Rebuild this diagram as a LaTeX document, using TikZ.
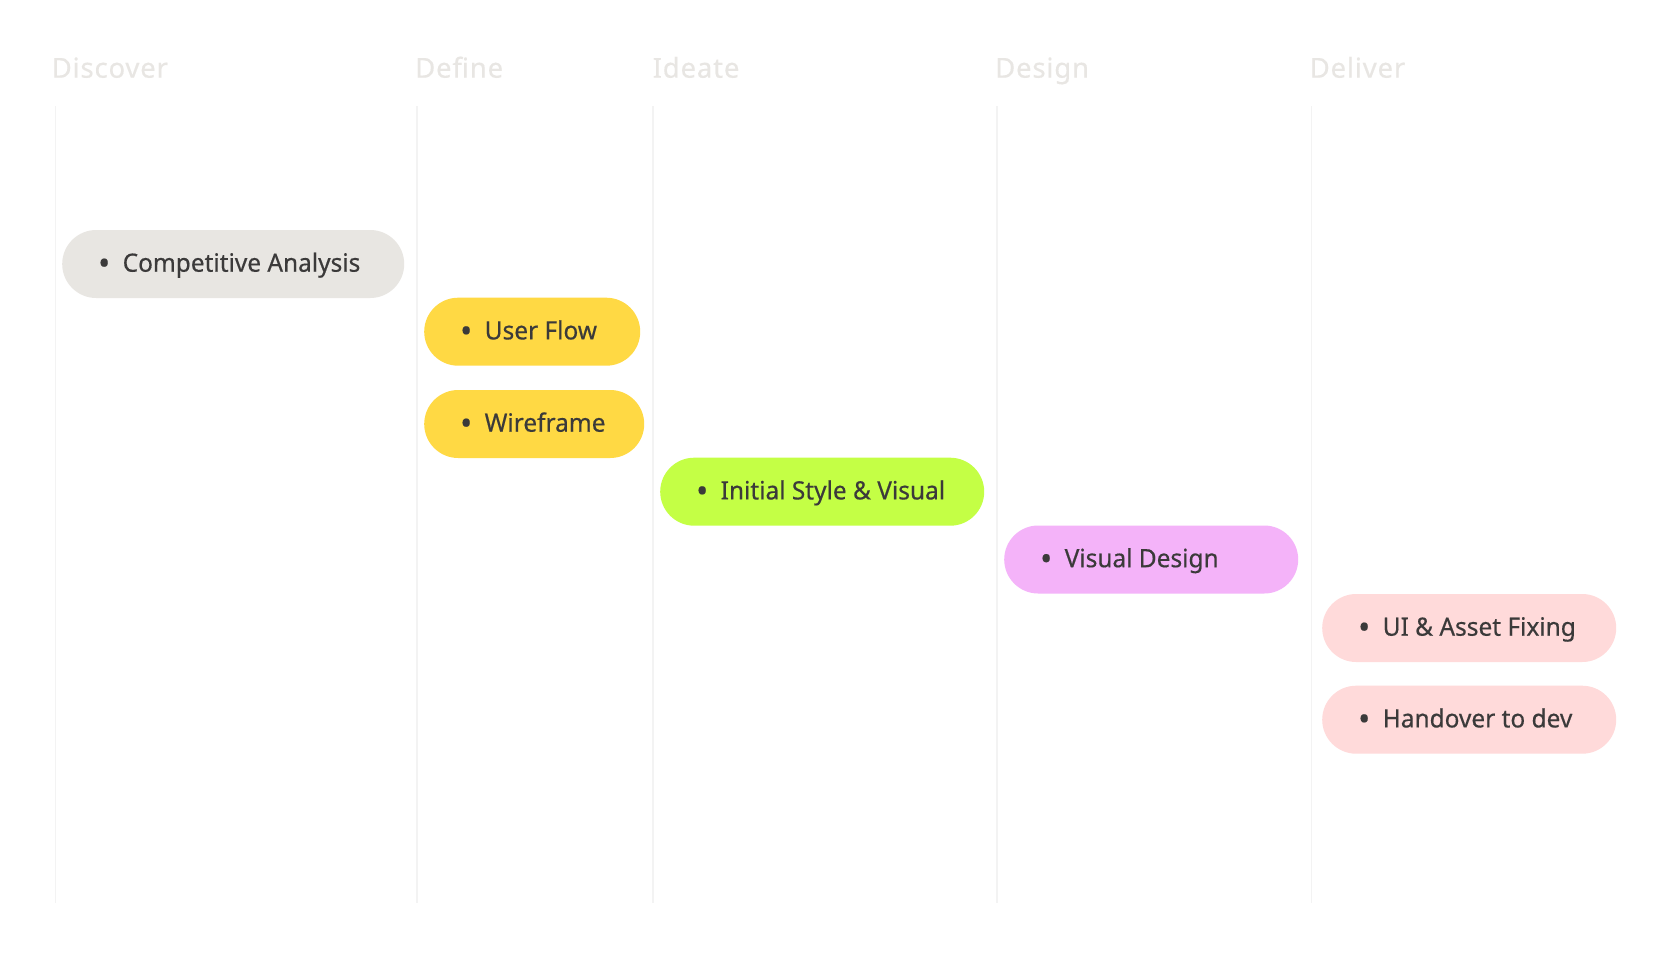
\documentclass[tikz,border=0pt]{standalone}
\usepackage{fontspec}
\setmainfont{Noto Sans}
\newfontfamily\hdrfont[LetterSpace=3,FakeBold=0.3]{Noto Sans}
\newfontfamily\pillfont[FakeBold=0.45,FakeStretch=0.97]{Noto Sans}
\definecolor{hdr}{HTML}{E8E6E3}
\definecolor{vline}{HTML}{F3F3F3}
\definecolor{txt}{HTML}{3B3A3A}
\definecolor{cgrey}{HTML}{E8E6E2}
\definecolor{cyellow}{HTML}{FFD944}
\definecolor{cgreen}{HTML}{C4FF45}
\definecolor{cviolet}{HTML}{F4B3F9}
\definecolor{cpink}{HTML}{FFDADA}
\newcommand{\pillbullet}{\makebox[37pt][c]{{\fontsize{33}{33}\selectfont\raisebox{-3pt}{•}}}}
\begin{document}
\begin{tikzpicture}[x=1pt,y=-1pt,
  header/.style={anchor=base west,inner sep=0pt,text=hdr,font=\hdrfont\fontsize{27.5}{32}\selectfont},
  lane/.style={draw=vline,line width=1.5pt},
  pill/.style={rounded corners=34pt,minimum height=68pt,anchor=west,inner sep=0pt},
  pilltext/.style={anchor=base west,inner sep=0pt,text=txt,font=\pillfont\fontsize{25.2}{30}\selectfont}]
\useasboundingbox[fill=white] (0,0) rectangle (1668,962);
% headers
\node[header] (hdisc) at (51.5,77.7) {Discover};
\node[header] (hdef) at (415,77.7) {Define};
\node[header] (hide) at (652.5,77.7) {Ideate};
\node[header] (hdes) at (995,77.7) {Design};
\node[header] (hdel) at (1309.5,77.7) {Deliver};
% lanes
\coordinate (l1a) at (55.5,106); \coordinate (l1b) at (55.5,903);
\coordinate (l2a) at (417,106); \coordinate (l2b) at (417,903);
\coordinate (l3a) at (653,106); \coordinate (l3b) at (653,903);
\coordinate (l4a) at (997,106); \coordinate (l4b) at (997,903);
\coordinate (l5a) at (1311.5,106); \coordinate (l5b) at (1311.5,903);
\draw[lane] (l1a) -- (l1b);
\draw[lane] (l2a) -- (l2b);
\draw[lane] (l3a) -- (l3b);
\draw[lane] (l4a) -- (l4b);
\draw[lane] (l5a) -- (l5b);
% pills
\node[pill,fill=cgrey,minimum width=342pt] (ca) at (62,264) {};
\node[pill,fill=cyellow,minimum width=216pt] (uf) at (424,331.7) {};
\node[pill,fill=cyellow,minimum width=220pt] (wf) at (424,424) {};
\node[pill,fill=cgreen,minimum width=324pt] (isv) at (660,491.7) {};
\node[pill,fill=cviolet,minimum width=294pt] (vd) at (1004,559.5) {};
\node[pill,fill=cpink,minimum width=294pt] (ui) at (1322,628) {};
\node[pill,fill=cpink,minimum width=294pt] (ho) at (1322,719.7) {};
% pill texts
\node[pilltext] (tca) at ([xshift=23.5pt,yshift=-7.7pt]ca.west) {\pillbullet Competitive Analysis};
\node[pilltext] (tuf) at ([xshift=23.5pt,yshift=-7.7pt]uf.west) {\pillbullet User Flow};
\node[pilltext] (twf) at ([xshift=23.5pt,yshift=-7.7pt]wf.west) {\pillbullet Wireframe};
\node[pilltext] (tisv) at ([xshift=23.5pt,yshift=-7.7pt]isv.west) {\pillbullet Initial Style \& Visual};
\node[pilltext] (tvd) at ([xshift=23.5pt,yshift=-7.7pt]vd.west) {\pillbullet Visual Design};
\node[pilltext] (tui) at ([xshift=23.5pt,yshift=-7.7pt]ui.west) {\pillbullet UI \& Asset Fixing};
\node[pilltext] (tho) at ([xshift=23.5pt,yshift=-7.7pt]ho.west) {\pillbullet Handover to dev};
\end{tikzpicture}
\end{document}
